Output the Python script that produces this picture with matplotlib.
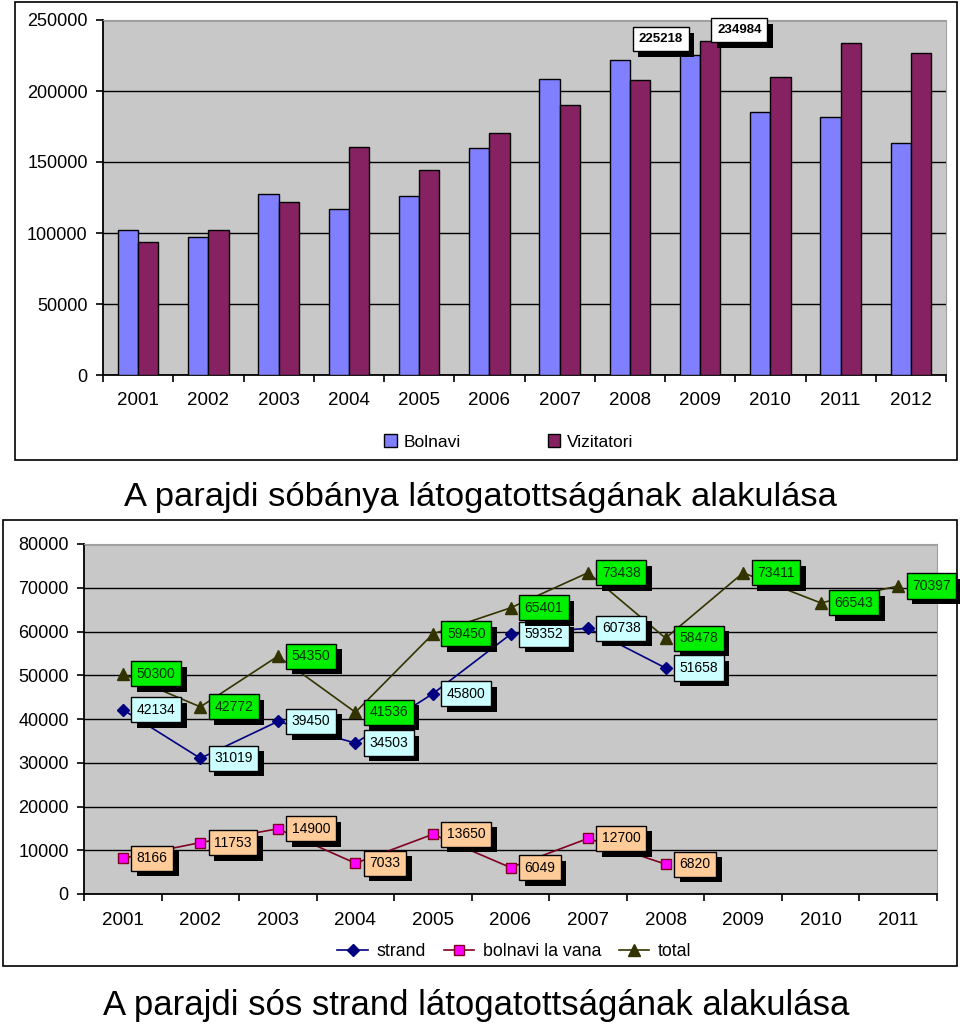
import numpy as np
import matplotlib
matplotlib.use('Agg')
import matplotlib.pyplot as plt
import matplotlib.patheffects as pe
from matplotlib.patches import Rectangle

plt.rcParams['font.family'] = ['Liberation Sans', 'DejaVu Sans']

# top chart data
years_top = ['2001', '2002', '2003', '2004', '2005', '2006', '2007', '2008', '2009', '2010', '2011', '2012']
bolnavi = [102100, 97000, 127700, 117100, 125800, 160100, 208700, 221800, 225218, 185000, 181700, 163100]
vizitatori = [93500, 102100, 121600, 160800, 144100, 170400, 190400, 208000, 234984, 209900, 234000, 226500]

# bottom chart data
years_bot = ['2001', '2002', '2003', '2004', '2005', '2006', '2007', '2008', '2009', '2010', '2011']
strand = [42134, 31019, 39450, 34503, 45800, 59352, 60738, 51658]
bolnavi_vana = [8166, 11753, 14900, 7033, 13650, 6049, 12700, 6820]
total = [50300, 42772, 54350, 41536, 59450, 65401, 73438, 58478, 73411, 66543, 70397]

fig = plt.figure(figsize=(9.6, 10.3), dpi=100)

# outer frames
fig.patches.append(Rectangle((15 / 960, 1 - 460 / 1030), 942 / 960, 458 / 1030,
                             transform=fig.transFigure, fill=False, ec='black', lw=1.2))
fig.patches.append(Rectangle((3 / 960, 1 - 966 / 1030), 954 / 960, 446 / 1030,
                             transform=fig.transFigure, fill=False, ec='black', lw=1.2))


def style_axes(ax, n, xpad):
    ax.set_facecolor('#C8C8C8')
    ax.set_xlim(0, n)
    ax.set_xticks(np.arange(n) + 0.5)
    ax.set_xticks(np.arange(n + 1), minor=True)
    ax.tick_params(axis='x', which='major', length=0, pad=xpad, labelsize=13.5)
    ax.tick_params(axis='x', which='minor', length=5, width=1.2, direction='out')
    ax.tick_params(axis='y', length=5, width=1.2, pad=6, labelsize=13)
    ax.grid(axis='y', color='black', lw=1)
    ax.set_axisbelow(True)
    for s in ['top', 'right']:
        ax.spines[s].set_color('#A0A0A0')
    for s in ['left', 'bottom']:
        ax.spines[s].set_linewidth(1.3)


shadow = [pe.SimplePatchShadow(offset=(4, -4), shadow_rgbFace='black', alpha=1), pe.Normal()]

# ---- top chart ----
ax1 = fig.add_axes([103 / 960, 1 - 375 / 1030, 843 / 960, 355 / 1030])
x = np.arange(len(years_top)) + 0.5
w = 0.29
b1 = ax1.bar(x - w / 2, bolnavi, w, color='#8080FF', ec='black', lw=1, label='Bolnavi', zorder=3)
b2 = ax1.bar(x + w / 2, vizitatori, w, color='#862262', ec='black', lw=1, label='Vizitatori', zorder=3)
ax1.set_ylim(0, 250000)
ax1.set_yticks(range(0, 250001, 50000))
style_axes(ax1, len(years_top), 12)
ax1.set_xticklabels(years_top)

i = years_top.index('2009')
ax1.annotate(str(bolnavi[i]), (x[i] - w / 2, bolnavi[i]), xytext=(-29, 16), textcoords='offset pixels',
             ha='center', va='center', fontsize=9.5, fontweight='bold', zorder=5,
             bbox=dict(boxstyle='square,pad=0.45', fc='white', ec='black', lw=1, path_effects=shadow))
ax1.annotate(str(vizitatori[i]), (x[i] + w / 2, vizitatori[i]), xytext=(29, 11), textcoords='offset pixels',
             ha='center', va='center', fontsize=9.5, fontweight='bold', zorder=5,
             bbox=dict(boxstyle='square,pad=0.45', fc='white', ec='black', lw=1, path_effects=shadow))

fig.legend(handles=[b1, b2], loc='center', bbox_to_anchor=(0.530, 1 - 442 / 1030), ncol=2,
           frameon=False, fontsize=12.5, handlelength=0.7, handleheight=0.7, handletextpad=0.4,
           columnspacing=5.0)

fig.text(0.5, 1 - 498 / 1030, 'A parajdi sóbánya látogatottságának alakulása',
         ha='center', va='center', fontsize=24.8)

# ---- bottom chart ----
ax2 = fig.add_axes([84 / 960, 1 - 894 / 1030, 853 / 960, 350 / 1030])
xb = np.arange(len(years_bot)) + 0.5
l1, = ax2.plot(xb[:len(strand)], strand, color='#000080', lw=1.2, marker='D', ms=6.5,
               mfc='#000080', mec='#000080', label='strand', zorder=3)
l2, = ax2.plot(xb[:len(bolnavi_vana)], bolnavi_vana, color='#800020', lw=1.2, marker='s', ms=7,
               mfc='#FF00FF', mec='#800020', label='bolnavi la vana', zorder=3)
l3, = ax2.plot(xb, total, color='#333300', lw=1.2, marker='^', ms=8,
               mfc='#333300', mec='#333300', label='total', zorder=3)
ax2.set_ylim(0, 80000)
ax2.set_yticks(range(0, 80001, 10000))
style_axes(ax2, len(years_bot), 13)
ax2.set_xticklabels(years_bot)


def label_points(xs, vals, fc, tc):
    for xx, v in zip(xs, vals):
        ax2.annotate(str(v), (xx, v), xytext=(14, 0), textcoords='offset pixels',
                     ha='left', va='center', fontsize=10, color=tc, zorder=6,
                     bbox=dict(boxstyle='square,pad=0.4', fc=fc, ec='black', lw=1, path_effects=shadow))


label_points(xb[:len(strand)], strand, '#CCFFFF', 'black')
label_points(xb[:len(bolnavi_vana)], bolnavi_vana, '#FFCC99', 'black')
label_points(xb, total, '#00F000', '#003300')

fig.legend(handles=[l1, l2, l3], loc='center', bbox_to_anchor=(0.536, 1 - 952 / 1030), ncol=3,
           frameon=False, fontsize=12.8, handlelength=1.7, handletextpad=0.5, columnspacing=1.0)

fig.text(0.496, 1 - 1005 / 1030, 'A parajdi sós strand látogatottságának alakulása',
         ha='center', va='center', fontsize=25)

fig.savefig('out.png', dpi=100)
